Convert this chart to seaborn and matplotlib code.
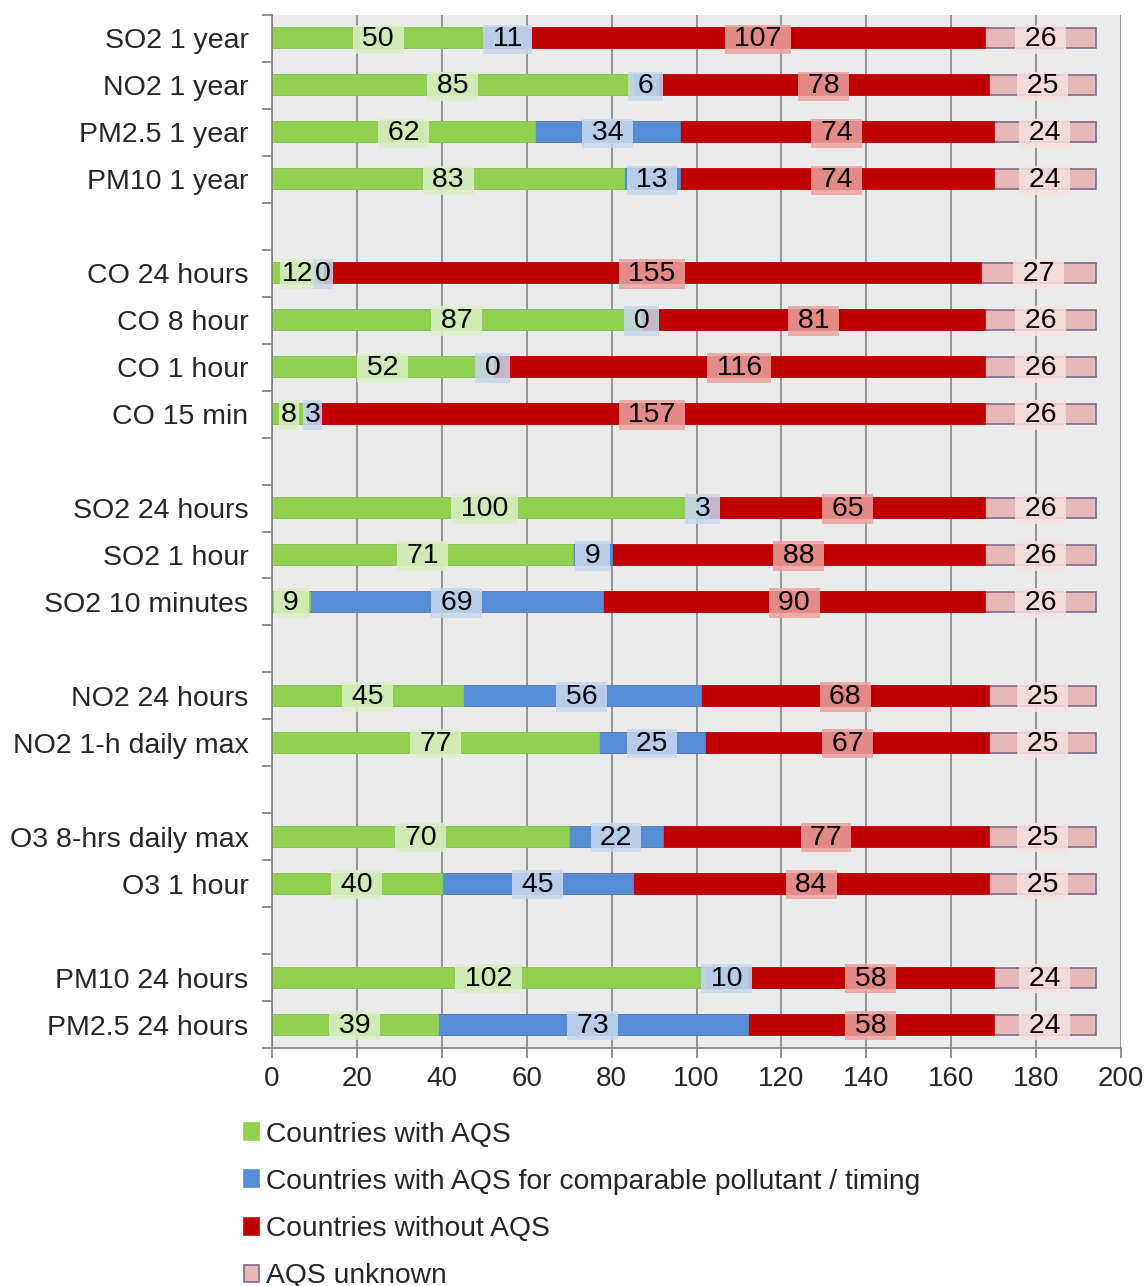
import matplotlib
matplotlib.use("Agg")
import matplotlib.pyplot as plt
import numpy as np
import pandas as pd
import seaborn as sns
from matplotlib.patches import Patch

# -------------------------
# data (top to bottom, blank strings are the gaps between groups)
# -------------------------
row_order = [
    "SO2 1 year", "NO2 1 year", "PM2.5 1 year", "PM10 1 year", " ",
    "CO 24 hours", "CO 8 hour", "CO 1 hour", "CO 15 min", "  ",
    "SO2 24 hours", "SO2 1 hour", "SO2 10 minutes", "   ",
    "NO2 24 hours", "NO2 1-h daily max", "    ",
    "O3 8-hrs daily max", "O3 1 hour", "     ",
    "PM10 24 hours", "PM2.5 24 hours",
]
categories = [
    "SO2 1 year", "NO2 1 year", "PM2.5 1 year", "PM10 1 year",
    "CO 24 hours", "CO 8 hour", "CO 1 hour", "CO 15 min",
    "SO2 24 hours", "SO2 1 hour", "SO2 10 minutes",
    "NO2 24 hours", "NO2 1-h daily max",
    "O3 8-hrs daily max", "O3 1 hour",
    "PM10 24 hours", "PM2.5 24 hours",
]
with_aqs = [50, 85, 62, 83, 12, 87, 52, 8, 100, 71, 9, 45, 77, 70, 40, 102, 39]
comparable = [11, 6, 34, 13, 0, 0, 0, 3, 3, 9, 69, 56, 25, 22, 45, 10, 73]
without_aqs = [107, 78, 74, 74, 155, 81, 116, 157, 65, 88, 90, 68, 67, 77, 84, 58, 58]
unknown = [26, 25, 24, 24, 27, 26, 26, 26, 26, 26, 26, 25, 25, 25, 25, 24, 24]

series_names = ["Countries with AQS",
                "Countries with AQS for comparable pollutant / timing",
                "Countries without AQS",
                "AQS unknown"]
bar_colors = ["#92D050", "#558ED5", "#C00000", "#E6B9B8"]
box_colors = ["#DCEFC8", "#C8D8EC", "#EAA39E", "#F6E2E1"]

df = pd.DataFrame({"row": categories, "s1": with_aqs, "s2": comparable,
                   "s3": without_aqs, "s4": unknown})
vals = df[["s1", "s2", "s3", "s4"]].to_numpy()
cum = vals.cumsum(axis=1)
for i in range(4):
    df[f"c{i}"] = cum[:, i]

sns.set_theme(style="white")
plt.rcParams["font.family"] = ["Liberation Sans", "DejaVu Sans"]

fig = plt.figure(figsize=(11.45, 12.86), dpi=100)
ax = fig.add_axes([0.2376, 0.185, 0.7415, 0.8034])
ax.set_facecolor("#EBEBEB")

# stacked bars: draw cumulative totals from the outside in
for i in [3, 2, 1, 0]:
    edge = "#7F6A8E" if i == 3 else bar_colors[i]
    sns.barplot(data=df, x=f"c{i}", y="row", order=row_order, orient="h",
                color=bar_colors[i], saturation=1, width=0.43, ax=ax,
                zorder=2, edgecolor=edge, linewidth=1.2)

# value labels with pale boxes (narrow ones in the crowded CO rows get no extra padding)
pos = {name: row_order.index(name) for name in categories}
for r, name in enumerate(categories):
    crowded = cum[r, 1] < 15
    for i in range(4):
        center = cum[r, i] - vals[r, i] / 2
        txt = str(vals[r, i]) if (crowded and i < 2) else f" {vals[r, i]} "
        ax.text(center, pos[name] + 0.02, txt, ha="center",
                va="center", fontsize=20.5, color="black", zorder=4,
                bbox=dict(boxstyle="square,pad=0.06", facecolor=box_colors[i],
                          edgecolor="none", alpha=0.85))

ax.set_xlim(0, 200)
ax.set_ylim(len(row_order) - 0.5, -0.5)
ax.set_xticks(np.arange(0, 201, 20))
ax.tick_params(axis="x", labelsize=20, length=7, width=1.2, color="#808080",
               direction="out", bottom=True, pad=6)
ax.tick_params(axis="y", which="major", labelsize=20.5, length=0, pad=17)
ax.set_yticks(np.arange(-0.5, len(row_order), 1), minor=True)
ax.tick_params(axis="y", which="minor", length=7, width=1.2, color="#808080",
               direction="out", left=True)
ax.set_xlabel("")
ax.set_ylabel("")

ax.grid(axis="x", color="#8C8C8C", linewidth=1.3, zorder=0)
ax.grid(axis="y", visible=False)
ax.set_axisbelow(True)
for side in ["top", "right"]:
    ax.spines[side].set_visible(False)
for side in ["left", "bottom"]:
    ax.spines[side].set_color("#808080")
    ax.spines[side].set_linewidth(1.2)

handles = [Patch(facecolor=bar_colors[i],
                 edgecolor="#7F6A8E" if i == 3 else bar_colors[i],
                 linewidth=1.2, label=series_names[i]) for i in range(4)]
fig.legend(handles=handles, loc="upper left", bbox_to_anchor=(0.203, 0.1365),
           frameon=False, fontsize=20.3, handlelength=0.55, handleheight=0.55,
           handletextpad=0.25, labelspacing=0.75, borderaxespad=0)

fig.savefig("out.png", dpi=100, facecolor="white")
